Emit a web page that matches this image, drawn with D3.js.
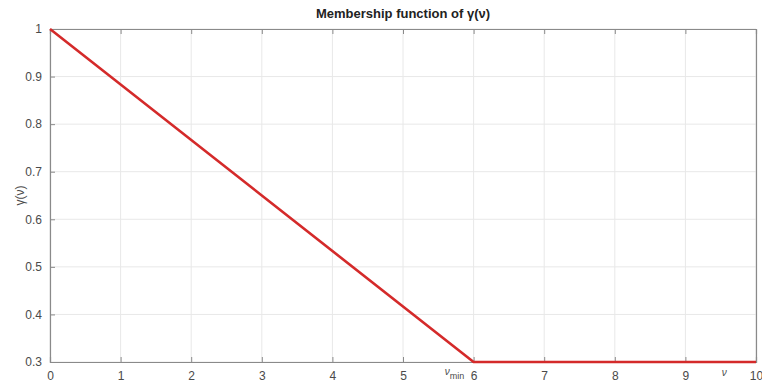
<!DOCTYPE html>
<html>
<head>
<meta charset="utf-8">
<script src="https://cdn.jsdelivr.net/npm/d3@7"></script>
<style>
  html, body { margin: 0; padding: 0; background: #fff; }
  svg { display: block; font-family: "Liberation Sans", Arial, sans-serif; }
</style>
</head>
<body>
<svg id="chart" width="762" height="382"></svg>
<script>
// Membership function breakpoints
const nuValues = [0, 6, 10];
const gammaValues = [1, 0.3, 0.3];
const xTicks = [0, 1, 2, 3, 4, 5, 6, 7, 8, 9, 10];
const yTicks = [0.3, 0.4, 0.5, 0.6, 0.7, 0.8, 0.9, 1];
const yTickLabels = ["0.3", "0.4", "0.5", "0.6", "0.7", "0.8", "0.9", "1"];

const margin = { left: 50, right: 6, top: 29, bottom: 20 };
const W = 762, H = 382;
const svg = d3.select("#chart");

const x = d3.scaleLinear().domain([0, 10]).range([margin.left, W - margin.right]);
const y = d3.scaleLinear().domain([0.3, 1]).range([H - margin.bottom, margin.top]);

const axisColor = "#8a8a8a";
const textColor = "#4a4a4a";

// grid
const grid = svg.append("g");
grid.selectAll("line.vx").data(xTicks).join("line")
  .attr("x1", d => x(d)).attr("x2", d => x(d))
  .attr("y1", y(0.3)).attr("y2", y(1))
  .attr("stroke", "#e8e8e8").attr("stroke-width", 1);
grid.selectAll("line.hy").data(yTicks).join("line")
  .attr("y1", d => y(d)).attr("y2", d => y(d))
  .attr("x1", x(0)).attr("x2", x(10))
  .attr("stroke", "#e8e8e8").attr("stroke-width", 1);

// axes (ticks pointing inward)
const xAxis = svg.append("g").attr("transform", `translate(0,${y(0.3)})`)
  .call(d3.axisBottom(x).tickValues(xTicks).tickSize(-5).tickPadding(9).tickFormat(d3.format("d")));
const xAxisTop = svg.append("g").attr("transform", `translate(0,${y(1)})`)
  .call(d3.axisTop(x).tickValues(xTicks).tickSize(-5).tickFormat(""));
const yAxis = svg.append("g").attr("transform", `translate(${x(0)},0)`)
  .call(d3.axisLeft(y).tickValues(yTicks).tickSize(-5).tickPadding(8)
    .tickFormat((d, i) => yTickLabels[i]));
const yAxisRight = svg.append("g").attr("transform", `translate(${x(10)},0)`)
  .call(d3.axisRight(y).tickValues(yTicks).tickSize(0).tickFormat(""));

[xAxis, xAxisTop, yAxis, yAxisRight].forEach(g => {
  g.select(".domain").attr("stroke", axisColor).attr("stroke-width", 1.2);
  g.selectAll(".tick line").attr("stroke", axisColor);
  g.selectAll(".tick text").attr("fill", textColor).attr("font-size", 12);
});

// the membership curve
const line = d3.line().x((d, i) => x(nuValues[i])).y(d => y(d));
svg.append("path")
  .datum(gammaValues)
  .attr("d", line)
  .attr("fill", "none")
  .attr("stroke", "#d42a2a")
  .attr("stroke-width", 2.6)
  .attr("stroke-linejoin", "round");

// axis annotations
const nuMin = svg.append("text")
  .attr("x", x(5.73)).attr("y", H - 7)
  .attr("text-anchor", "middle")
  .attr("fill", textColor)
  .attr("font-size", 10)
  .attr("font-style", "italic");
nuMin.append("tspan").text("ν");
nuMin.append("tspan").attr("font-size", 9).attr("font-style", "normal").attr("dy", 4).text("min");

svg.append("text")
  .attr("x", x(9.55)).attr("y", H - 6)
  .attr("text-anchor", "middle")
  .attr("fill", textColor)
  .attr("font-size", 10)
  .attr("font-style", "italic")
  .text("ν");

// title
svg.append("text")
  .attr("x", (x(0) + x(10)) / 2).attr("y", 18)
  .attr("text-anchor", "middle")
  .attr("font-weight", "bold")
  .attr("font-size", 13)
  .attr("fill", "#222")
  .text("Membership function of γ(ν)");

// y label
svg.append("text")
  .attr("transform", `translate(24,${(y(0.3) + y(1)) / 2}) rotate(-90)`)
  .attr("text-anchor", "middle")
  .attr("font-size", 12)
  .attr("fill", textColor)
  .text("γ(ν)");
</script>
</body>
</html>
